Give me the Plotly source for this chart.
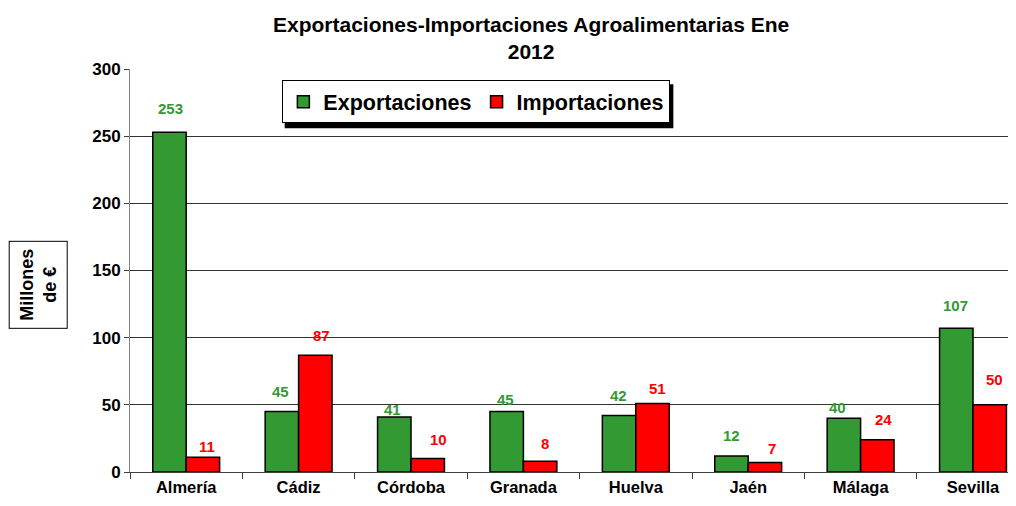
import plotly.graph_objects as go

provincias = ["Almería", "Cádiz", "Córdoba", "Granada", "Huelva", "Jaén", "Málaga", "Sevilla"]
exportaciones = [253, 45, 41, 45, 42, 12, 40, 107]
importaciones = [11, 87, 10, 8, 51, 7, 24, 50]
y_ticks = [0, 50, 100, 150, 200, 250, 300]

# label placement tweaks (pixels) to mimic the original's manual placement
exp_lbl_dy = [24, 20, 7, 12, 20, 20, 11, 23]
exp_lbl_dx = [1, -1, -2, -1, -1, 0, -6, -1]
imp_lbl_dy = [11, 20, 19, 18, 15, 14, 20, 25]
imp_lbl_dx = [4, 6, 11, 5, 5, 7, 6, 5]

GREEN = "#339933"
RED = "#FF0000"
FONT = "Liberation Sans, Arial, sans-serif"
BARGAP = 0.405

# the page body adds an 8px margin; figure is sized so it ends at the window edge
OFF = 8
W, H = 1016 - OFF, 506 - OFF
SX0, SX1 = 130.4, 1016        # plot area left / visible right in window px
SY0, SY1 = 69.3, 472          # plot area top / bottom in window px
L = SX0 - OFF
T = SY0 - OFF
B = H - (SY1 - OFF)
plot_w = W - L
plot_h = H - T - B
CAT_PX = 112.35


def px_x(sx):
    return (sx - SX0) / plot_w


def px_y(sy):
    return (SY1 - sy) / plot_h


fig = go.Figure()
fig.add_trace(go.Bar(
    name="Exportaciones", x=provincias, y=exportaciones,
    marker=dict(color=GREEN, line=dict(color="black", width=1.5)),
))
fig.add_trace(go.Bar(
    name="Importaciones", x=provincias, y=importaciones,
    marker=dict(color=RED, line=dict(color="black", width=1.5)),
))

half = (1 - BARGAP) / 4
annotations = []
for i, (e, im) in enumerate(zip(exportaciones, importaciones)):
    annotations.append(dict(
        x=i - half, y=e, xref="x", yref="y", text=str(e), showarrow=False,
        xshift=exp_lbl_dx[i], yshift=exp_lbl_dy[i], yanchor="middle",
        font=dict(family=FONT, size=15, color=GREEN, weight="bold"),
    ))
    annotations.append(dict(
        x=i + half, y=im, xref="x", yref="y", text=str(im), showarrow=False,
        xshift=imp_lbl_dx[i], yshift=imp_lbl_dy[i], yanchor="middle",
        font=dict(family=FONT, size=15, color=RED, weight="bold"),
    ))

# title
annotations.append(dict(
    x=px_x(531.5), y=px_y(11), xref="paper", yref="paper",
    text="Exportaciones-Importaciones Agroalimentarias Ene<br>2012",
    showarrow=False, xanchor="center", yanchor="top",
    font=dict(family=FONT, size=21, color="black", weight="bold"),
))
# y axis title in a box
annotations.append(dict(
    x=px_x(38.7), y=px_y(284.7), xref="paper", yref="paper",
    text="Millones<br>de €", textangle=-90, showarrow=False,
    xanchor="center", yanchor="middle", align="center",
    bordercolor="black", borderwidth=1, borderpad=7, bgcolor="white",
    font=dict(family=FONT, size=18, color="black", weight="bold"),
))

LEG_TOP = 80.5
shapes = [dict(
    type="rect", xref="paper", yref="paper", layer="above",
    x0=px_x(285), x1=px_x(673.5),
    y0=px_y(LEG_TOP + 4), y1=px_y(LEG_TOP + 48),
    fillcolor="black", line=dict(width=0),
)]

fig.update_layout(
    width=W, height=H,
    margin=dict(l=L, r=0, t=T, b=B, pad=0),
    paper_bgcolor="white", plot_bgcolor="white",
    barmode="group", bargap=BARGAP, bargroupgap=0,
    showlegend=True,
    legend=dict(
        orientation="h", x=px_x(282.7), y=px_y(LEG_TOP), xanchor="left", yanchor="top",
        bgcolor="white", bordercolor="black", borderwidth=1,
        font=dict(family=FONT, size=21.5, color="black", weight="bold"),
        traceorder="normal",
    ),
    xaxis=dict(
        range=[-0.5, -0.5 + plot_w / CAT_PX],
        showgrid=False, showline=True, linecolor="#404040", linewidth=1,
        ticks="outside", tickson="boundaries", ticklen=6, tickcolor="#404040",
        tickfont=dict(family=FONT, size=16.5, color="black", weight="bold"),
        fixedrange=True,
    ),
    yaxis=dict(
        range=[0, 300], tickvals=y_ticks, ticktext=[str(v) for v in y_ticks],
        showgrid=True, gridcolor="#333333", gridwidth=1,
        showline=True, linecolor="#808080", linewidth=1,
        ticks="outside", ticklen=5, tickcolor="#404040",
        tickfont=dict(family=FONT, size=17, color="black", weight="bold"),
        zeroline=False, fixedrange=True,
    ),
    annotations=annotations,
    shapes=shapes,
)

fig.write_html("out.html")
